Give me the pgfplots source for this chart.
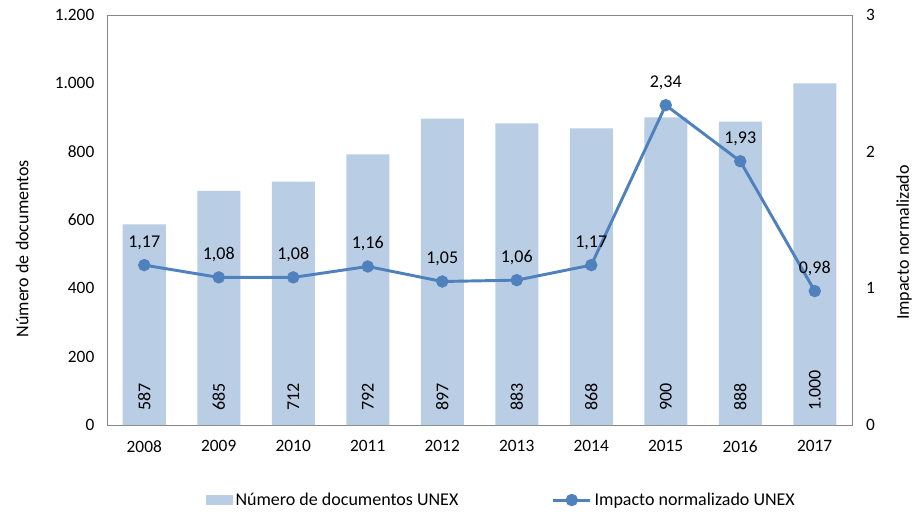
\documentclass[border=0pt]{standalone}
\usepackage{pgfplots}
\pgfplotsset{compat=1.18}
\usepackage{pgfplotstable}
\usepackage{fontspec}
\setmainfont{Carlito}

\definecolor{barblue}{HTML}{B9CDE5}
\definecolor{lineblue}{HTML}{4F81BD}
\definecolor{framegray}{HTML}{868686}

\pgfplotstableread{
year docs impact
2008 587 1.17
2009 685 1.08
2010 712 1.08
2011 792 1.16
2012 897 1.05
2013 883 1.06
2014 868 1.17
2015 900 2.34
2016 888 1.93
2017 1000 0.98
}\datatab

\pgfplotsset{
  /pgf/number format/assume math mode=true,
  base/.style={
    scale only axis,
    width=558.75pt, height=307.5pt,
    xmin=2007.5, xmax=2017.5,
    major tick length=0pt,
    axis line style={framegray},
    tick label style={font=\fontsize{13}{15}\selectfont},
    label style={font=\fontsize{13.5}{15}\selectfont},
  },
  widelinelegend/.style={legend image code/.code={
    \draw[mark repeat=2, mark phase=2, ##1] plot coordinates {(0pt,0pt)(14pt,0pt)(28pt,0pt)};}},
}

\begin{document}
\begin{tikzpicture}
\begin{axis}[base,
  ymin=0, ymax=1200, ytick={0,200,...,1200},
  yticklabel style={xshift=-6pt, /pgf/number format/.cd,1000 sep={.}},
  xtick={2008,...,2017},
  xticklabel style={yshift=-8pt, /pgf/number format/.cd,1000 sep={}},
  xtick pos=bottom, ytick pos=left,
  ylabel={Número de documentos},
  ylabel style={at={(axis description cs:-0.114,0.43)}, anchor=center, rotate=0},
  legend style={at={(0.53,-0.183)}, anchor=center, draw=none,
    font=\fontsize{13.5}{15}\selectfont, legend columns=2,
    /tikz/every even column/.append style={column sep=68pt}},
]
\addplot[ybar, bar width=32.25pt, fill=barblue, draw=none,
  legend image code/.code={\fill[barblue] (0pt,-4pt) rectangle (20pt,4pt);}]
  table[x=year, y=docs] {\datatab};
\addlegendentry{Número de documentos UNEX}
\addplot[draw=none, mark=none, point meta=explicit, forget plot,
  nodes near coords={\pgfmathprintnumber[1000 sep={.}]{\pgfplotspointmeta}},
  every node near coord/.append style={rotate=90, anchor=west, xshift=7pt,
    font=\fontsize{13.5}{15}\selectfont}]
  table[x=year, y expr=0, meta=docs] {\datatab};
\addlegendimage{widelinelegend, line width=2.2pt, color=lineblue, mark=*,
  mark size=3.5pt, mark options={fill=lineblue}}
\addlegendentry{Impacto normalizado UNEX}
\end{axis}
\begin{axis}[base,
  hide x axis,
  axis y line*=right,
  ymin=0, ymax=3, ytick={0,1,2,3},
  yticklabel style={xshift=7pt},
  ylabel={Impacto normalizado},
  ylabel style={at={(axis description cs:1.07,0.445)}, anchor=center, rotate=0},
]
\addplot[line width=2.2pt, color=lineblue, mark=*, mark size=3.5pt,
  nodes near coords={\pgfmathprintnumber[fixed, fixed zerofill, precision=2, use comma]{\pgfplotspointmeta}},
  every node near coord/.append style={color=black, anchor=south, yshift=7pt,
    font=\fontsize{13.5}{15}\selectfont}]
  table[x=year, y=impact] {\datatab};
\end{axis}
\pgfresetboundingbox
\path[use as bounding box] (-80.25pt,-69.75pt) rectangle (609pt,318.75pt);
\end{tikzpicture}
\end{document}
